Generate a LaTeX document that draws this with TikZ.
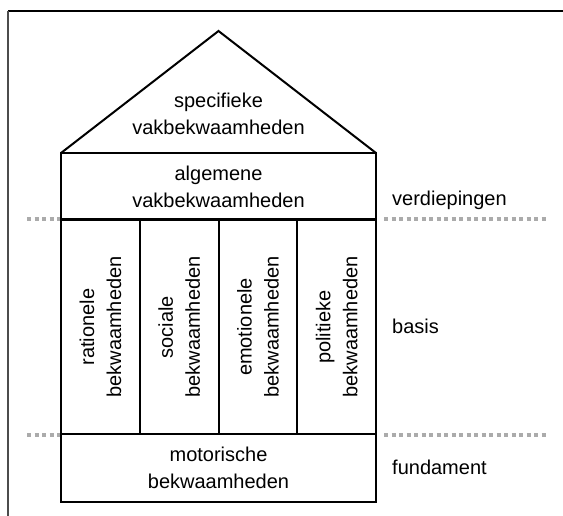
\documentclass[tikz,border=0pt]{standalone}
\usepackage{fontspec}
\setmainfont{Liberation Sans}
\usetikzlibrary{positioning}

\tikzset{
  part/.style={draw,line width=2pt,inner sep=0pt,align=center,
    font=\fontsize{20}{27}\selectfont},
  pillar/.style={part,minimum width=214pt,minimum height=78.75pt},
  level/.style={anchor=west,inner sep=0pt,font=\fontsize{20}{27}\selectfont},
  floorline/.style={line width=3.5pt,black!33,dash pattern=on 4pt off 3.5pt}
}

\begin{document}
\begin{tikzpicture}[x=1pt,y=-1pt,line join=miter]
\useasboundingbox (0,0) rectangle (563,516);

% frame
\draw[line width=1.2pt] (8,11) -- (563,11);
\draw[line width=1.4pt,black!70] (8,11) -- (8,516);

% dotted floor lines
\draw[floorline] (27,219) -- (61,219);
\draw[floorline] (384,219) -- (548,219);
\draw[floorline] (27,435) -- (61,435);
\draw[floorline] (384,435) -- (548,435);

% roof
\coordinate (apex) at (218.5,31);
\coordinate (eaveL) at (61,153);
\coordinate (eaveR) at (376,153);
\draw[line width=2pt] (eaveL) -- (apex) -- (eaveR);
\node[align=center,font=\fontsize{20}{27}\selectfont] (specifiek) at (218.5,114)
  {specifieke\\vakbekwaamheden};

% upper floor
\node[part,minimum width=315pt,minimum height=66pt] (algemeen) at (218.5,186.5)
  {algemene\\vakbekwaamheden};

% pillars
\foreach \i/\name/\txt in {0/rationeel/rationele,1/sociaal/sociale,
    2/emotioneel/emotionele,3/politiek/politieke}{
\node[pillar,rotate=90] (\name) at (100.4+78.75*\i,327)
  {\txt\\bekwaamheden};
}

% foundation
\node[part,minimum width=315pt,minimum height=68pt] (motorisch) at (218.5,468)
  {motorische\\bekwaamheden};

% level labels
\node[level] (verdieping) at (392,200) {verdiepingen};
\node[level] (basis) at (392,326) {basis};
\node[level] (fundament) at (392,467) {fundament};

\end{tikzpicture}
\end{document}
